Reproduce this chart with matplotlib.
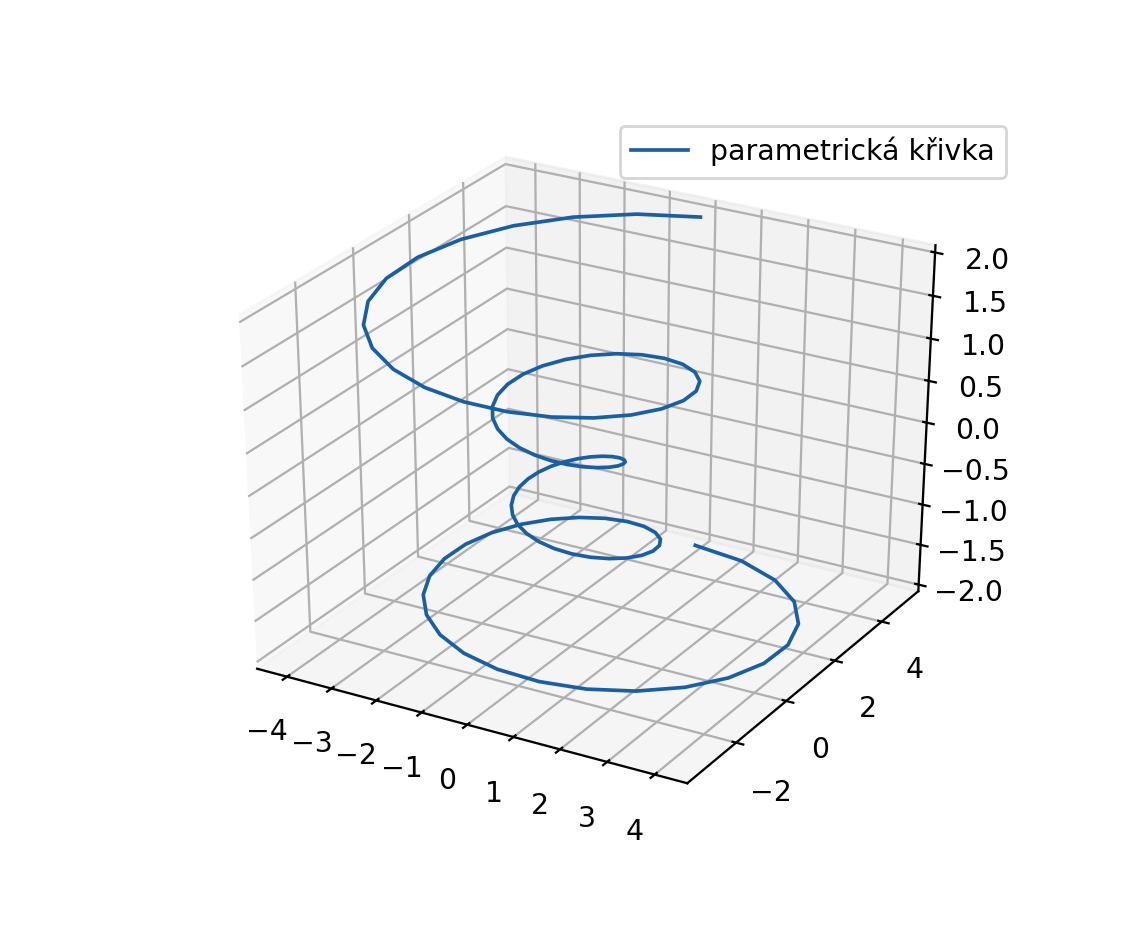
import matplotlib
matplotlib.use('Agg')
import matplotlib.pyplot as plt

# one turn of the spiral at a time
x_vals = [0.000, 1.215, 2.277, 3.126, 3.721, 4.042, 4.084, 3.865, 3.416, 2.780,
          2.012, 1.170, 0.313, -0.502, -1.226, -1.819, -2.254, -2.513, -2.593, -2.503,
          -2.261, -1.895, -1.436, -0.923, -0.390, 0.126, 0.593, 0.987, 1.289, 1.486,
          1.575, 1.559, 1.446, 1.251, 0.992, 0.690, 0.366, 0.040, -0.268, -0.541,
          -0.765, -0.931, -1.032, -1.066, -1.033, -0.940, -0.792, -0.599, -0.373, -0.127,
          0.127, 0.373, 0.599, 0.792, 0.940, 1.033, 1.066, 1.032, 0.931, 0.765,
          0.541, 0.268, -0.040, -0.366, -0.690, -0.992, -1.251, -1.446, -1.559, -1.575,
          -1.486, -1.289, -0.987, -0.593, -0.126, 0.390, 0.923, 1.436, 1.895, 2.261,
          2.503, 2.593, 2.513, 2.254, 1.819, 1.226, 0.502, -0.313, -1.170, -2.012,
          -2.780, -3.416, -3.865, -4.084, -4.042, -3.721, -3.126, -2.277, -1.215, 0.000]
y_vals = [5.000, 4.685, 4.092, 3.278, 2.309, 1.257, 0.195, -0.809, -1.692, -2.408,
          -2.922, -3.214, -3.281, -3.135, -2.801, -2.313, -1.715, -1.052, -0.373, 0.279,
          0.864, 1.349, 1.712, 1.938, 2.024, 1.976, 1.807, 1.537, 1.190, 0.796,
          0.382, -0.025, -0.400, -0.722, -0.977, -1.153, -1.245, -1.254, -1.186, -1.049,
          -0.855, -0.619, -0.357, -0.085, 0.182, 0.429, 0.643, 0.814, 0.932, 0.992,
          0.992, 0.932, 0.814, 0.643, 0.429, 0.182, -0.085, -0.357, -0.619, -0.855,
          -1.049, -1.186, -1.254, -1.245, -1.153, -0.977, -0.722, -0.400, -0.025, 0.382,
          0.796, 1.190, 1.537, 1.807, 1.976, 2.024, 1.938, 1.712, 1.349, 0.864,
          0.279, -0.373, -1.052, -1.715, -2.313, -2.801, -3.135, -3.281, -3.214, -2.922,
          -2.408, -1.692, -0.809, 0.195, 1.257, 2.309, 3.278, 4.092, 4.685, 5.000]
z_vals = [-2.0000, -1.9596, -1.9192, -1.8788, -1.8384, -1.7980, -1.7576, -1.7172, -1.6768, -1.6364,
          -1.5960, -1.5556, -1.5152, -1.4747, -1.4343, -1.3939, -1.3535, -1.3131, -1.2727, -1.2323,
          -1.1919, -1.1515, -1.1111, -1.0707, -1.0303, -0.9899, -0.9495, -0.9091, -0.8687, -0.8283,
          -0.7879, -0.7475, -0.7071, -0.6667, -0.6263, -0.5859, -0.5455, -0.5051, -0.4646, -0.4242,
          -0.3838, -0.3434, -0.3030, -0.2626, -0.2222, -0.1818, -0.1414, -0.1010, -0.0606, -0.0202,
          0.0202, 0.0606, 0.1010, 0.1414, 0.1818, 0.2222, 0.2626, 0.3030, 0.3434, 0.3838,
          0.4242, 0.4646, 0.5051, 0.5455, 0.5859, 0.6263, 0.6667, 0.7071, 0.7475, 0.7879,
          0.8283, 0.8687, 0.9091, 0.9495, 0.9899, 1.0303, 1.0707, 1.1111, 1.1515, 1.1919,
          1.2323, 1.2727, 1.3131, 1.3535, 1.3939, 1.4343, 1.4747, 1.5152, 1.5556, 1.5960,
          1.6364, 1.6768, 1.7172, 1.7576, 1.7980, 1.8384, 1.8788, 1.9192, 1.9596, 2.0000]
curve_label = 'parametrická křivka'

DPI = 204

fig = plt.figure(figsize=(1134 / DPI, 928 / DPI), dpi=DPI)
ax = fig.add_axes([0.125, 0.11, 0.775, 0.77], projection='3d')
# old style 3d axes: cube stretched over the whole axes box, not kept square
ax.apply_aspect = lambda position=None: None
ax.set_box_aspect((1, 1, 1), zoom=0.95)
ax.plot(x_vals, y_vals, z_vals, color='#1a5fa3', lw=1.3, label=curve_label)
ax.legend()

plt.savefig('out.png', dpi=DPI)
